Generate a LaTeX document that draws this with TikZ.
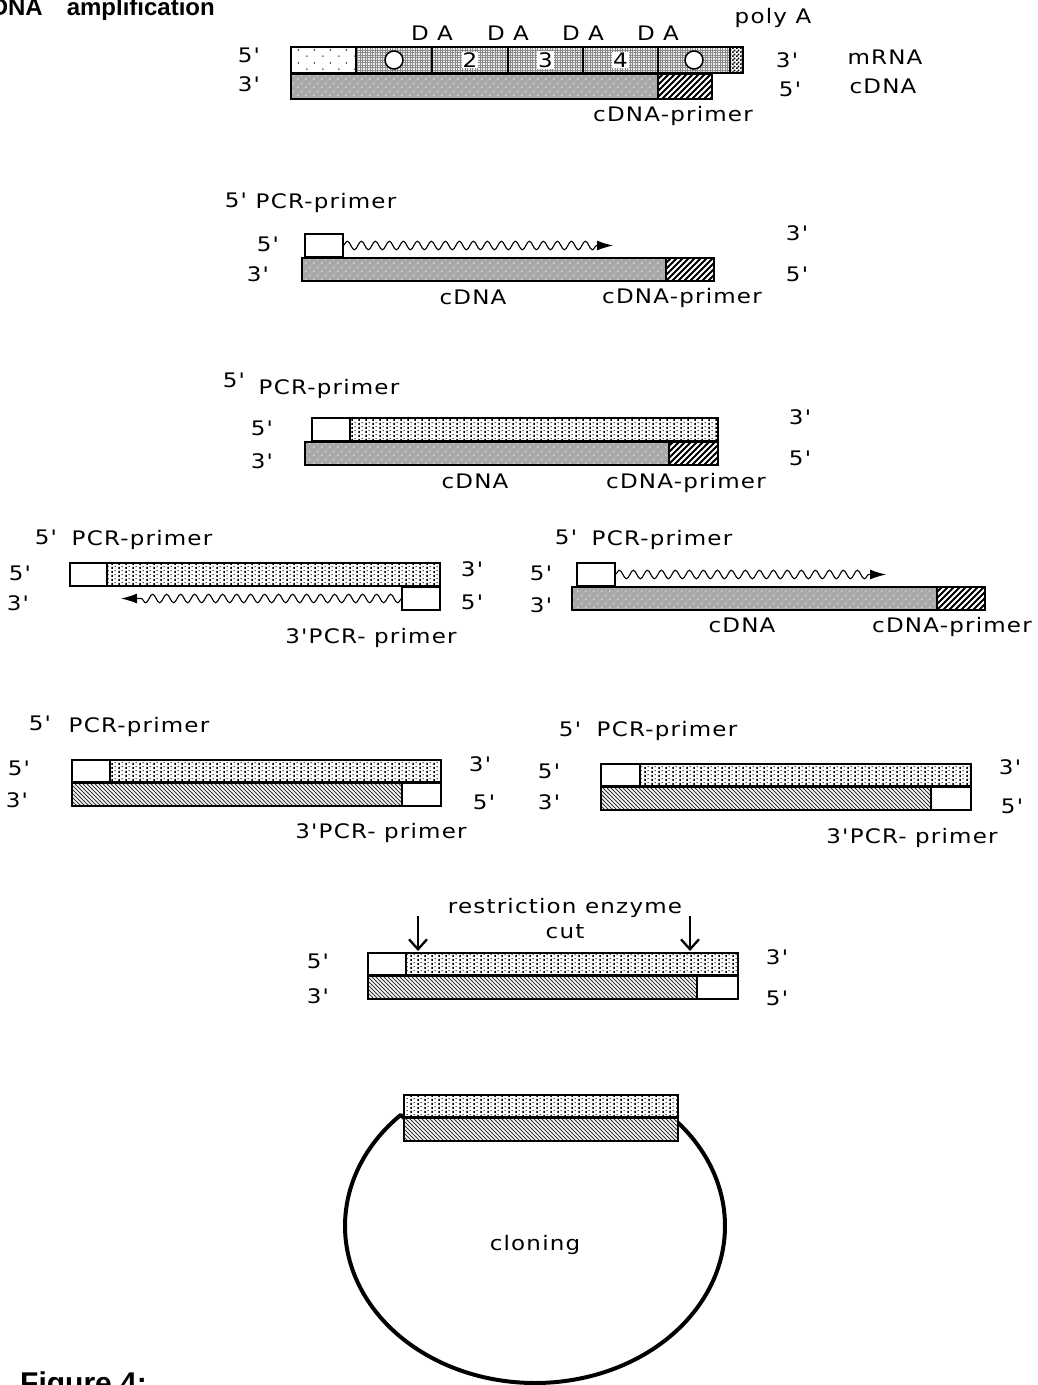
\documentclass[tikz,border=0pt]{standalone}
\usepackage{fontspec}
\setmainfont{DejaVu Sans}
\newfontfamily\macfont[FakeStretch=1.15,LetterSpace=6]{DejaVu Sans}
\newfontfamily\arialfont{Liberation Sans}
\usetikzlibrary{patterns,decorations.pathmorphing,arrows.meta}

% patterns
\pgfdeclarepatternformonly{sparsedots}{\pgfqpoint{0pt}{0pt}}{\pgfqpoint{16pt}{13pt}}{\pgfqpoint{16pt}{13pt}}{%
  \pgfpathcircle{\pgfqpoint{3pt}{3pt}}{1pt}\pgfpathcircle{\pgfqpoint{11pt}{9.5pt}}{1pt}\pgfusepath{fill}}
\pgfdeclarepatternformonly{finegrid}{\pgfqpoint{-0.5pt}{-0.5pt}}{\pgfqpoint{3pt}{3pt}}{\pgfqpoint{2.5pt}{2.5pt}}{%
  \pgfsetlinewidth{0.5pt}\pgfpathmoveto{\pgfqpoint{0pt}{0pt}}\pgfpathlineto{\pgfqpoint{0pt}{2.6pt}}%
  \pgfpathmoveto{\pgfqpoint{0pt}{0pt}}\pgfpathlineto{\pgfqpoint{2.6pt}{0pt}}\pgfusepath{stroke}}
\pgfdeclarepatternformonly{darkdots}{\pgfqpoint{0pt}{0pt}}{\pgfqpoint{8pt}{8pt}}{\pgfqpoint{8pt}{8pt}}{%
  \pgfpathcircle{\pgfqpoint{2pt}{2pt}}{1.1pt}\pgfpathcircle{\pgfqpoint{6pt}{6pt}}{1.1pt}\pgfusepath{fill}}
\pgfdeclarepatternformonly{pcrdots}{\pgfqpoint{0pt}{0pt}}{\pgfqpoint{6.5pt}{4pt}}{\pgfqpoint{6.5pt}{4pt}}{%
  \pgfpathrectangle{\pgfqpoint{0.4pt}{0.3pt}}{\pgfqpoint{1.6pt}{2.4pt}}%
  \pgfpathrectangle{\pgfqpoint{3.8pt}{2.2pt}}{\pgfqpoint{1.3pt}{1.3pt}}\pgfusepath{fill}}
\pgfdeclarepatternformonly{lighthatch}{\pgfqpoint{-1pt}{-1pt}}{\pgfqpoint{5pt}{5pt}}{\pgfqpoint{4pt}{4pt}}{%
  \pgfsetlinewidth{0.8pt}\pgfpathmoveto{\pgfqpoint{-0.1pt}{4.1pt}}\pgfpathlineto{\pgfqpoint{4.1pt}{-0.1pt}}\pgfusepath{stroke}}
\pgfdeclarepatternformonly{thickhatch}{\pgfqpoint{-1pt}{-1pt}}{\pgfqpoint{7pt}{7pt}}{\pgfqpoint{6pt}{6pt}}{%
  \pgfsetlinewidth{1.8pt}\pgfpathmoveto{\pgfqpoint{-0.2pt}{-0.2pt}}\pgfpathlineto{\pgfqpoint{6.2pt}{6.2pt}}\pgfusepath{stroke}}
\pgfdeclarepatternformonly{smallcheck}{\pgfqpoint{0pt}{0pt}}{\pgfqpoint{4pt}{4pt}}{\pgfqpoint{4pt}{4pt}}{%
  \pgfpathrectangle{\pgfqpoint{0pt}{0pt}}{\pgfqpoint{2pt}{2pt}}%
  \pgfpathrectangle{\pgfqpoint{2pt}{2pt}}{\pgfqpoint{2pt}{2pt}}\pgfusepath{fill}}

\newcommand\lblfont{\macfont\fontsize{20}{22}\selectfont}
\newcommand\segbox[6]{\node[seg,#1,minimum width={(#5-#3)*1pt},minimum height={(#6-#4)*1pt}] (#2) at (#3,#4) {};}

\tikzset{
  seg/.style={draw, line width=1.3pt, inner sep=0pt, outer sep=0pt, anchor=north west},
  blank/.style={fill=white},
  intron/.style={preaction={fill=white}, pattern=sparsedots, pattern color=black!70},
  exon/.style={preaction={fill=gray!12}, pattern=finegrid, pattern color=black!45},
  polya/.style={preaction={fill=white}, pattern=smallcheck, pattern color=black},
  cdna/.style={preaction={fill=gray!68}, pattern=darkdots, pattern color=gray!35},
  cprimer/.style={preaction={fill=white}, pattern=thickhatch, pattern color=black},
  pcr/.style={preaction={fill=white}, pattern=pcrdots, pattern color=black},
  newstr/.style={preaction={fill=white}, pattern=lighthatch, pattern color=black!80},
  lbl/.style={font=\lblfont, inner sep=0pt},
  wave/.style={decorate, decoration={snake, amplitude=4.3pt, segment length=14pt}, line width=1.1pt},
  tip/.style={line width=1.1pt, -{Latex[length=16pt,width=10pt]}},
  cutarrow/.style={line width=2.3pt, -{Straight Barb[length=10pt,width=18pt]}},
  loopline/.style={line width=4pt, line join=round}
}

\begin{document}
\begin{tikzpicture}[x=1pt,y=-1pt]
\useasboundingbox (0,0) rectangle (1038,1385);

% title and caption
\node[font=\arialfont\bfseries\fontsize{24}{27}\selectfont, inner sep=0pt, anchor=base east] (title) at (215,15) {cDNA\hspace{24pt}amplification};
\node[font=\arialfont\bfseries\fontsize{30}{34}\selectfont, inner sep=0pt, anchor=base west] (fig) at (20,1393) {Figure 4:};

% ---------------- Row 1: mRNA / cDNA
\segbox{intron}{m1a}{291}{47}{356}{73}
\segbox{exon}{m1b}{356}{47}{432}{73}
\segbox{exon}{m1c}{432}{47}{508}{73}
\segbox{exon}{m1d}{508}{47}{583}{73}
\segbox{exon}{m1e}{583}{47}{658}{73}
\segbox{exon}{m1f}{658}{47}{730}{73}
\segbox{polya}{m1g}{730}{47}{743}{73}
\segbox{cdna}{c1a}{291}{74}{658}{99}
\segbox{cprimer}{c1b}{658}{74}{712}{99}
\node[circle, draw, fill=white, line width=1.5pt, minimum size=18pt, inner sep=0pt] (o1) at (m1b.center) {};
\node[circle, draw, fill=white, line width=1.5pt, minimum size=18pt, inner sep=0pt] (o2) at (m1f.center) {};
\node[lbl, fill=white, inner sep=1pt] (n2) at (m1c.center) {2};
\node[lbl, fill=white, inner sep=1pt] (n3) at (m1d.center) {3};
\node[lbl, fill=white, inner sep=1pt] (n4) at (m1e.center) {4};
\node[lbl] (da1) at (432,33) {D A};
\node[lbl] (da2) at (508,33) {D A};
\node[lbl] (da3) at (583,33) {D A};
\node[lbl] (da4) at (658,33) {D A};
\node[lbl] (polyA) at (773,18) {poly A};
\node[lbl] (r1l5) at (249,55) {5'};
\node[lbl] (r1l3) at (249,84) {3'};
\node[lbl] (r1r3) at (787,60) {3'};
\node[lbl] (r1r5) at (790,89) {5'};
\node[lbl] (mrna) at (885,57) {mRNA};
\node[lbl] (cdnaA) at (883,86) {cDNA};
\node[lbl] (cp1) at (673,116) {cDNA-primer};

% ---------------- Row 2
\node[lbl] (r2p5) at (236,200) {5'};
\node[lbl] (r2pcr) at (326,203) {PCR-primer};
\segbox{blank}{p2}{305}{234}{343}{257}
\segbox{cdna}{c2a}{302}{258}{666}{281}
\segbox{cprimer}{c2b}{666}{258}{714}{281}
\coordinate (w2e) at (597,245.5);
\coordinate (w2t) at (613,245.5);
\draw[wave] (p2.east) -- (w2e);
\draw[tip] (w2e) -- (w2t);
\node[lbl] (r2l5) at (268,244) {5'};
\node[lbl] (r2l3) at (258,274) {3'};
\node[lbl] (r2r3) at (797,233) {3'};
\node[lbl] (r2r5) at (797,274) {5'};
\node[lbl] (r2c) at (473,297) {cDNA};
\node[lbl] (r2cp) at (682,298) {cDNA-primer};

% ---------------- Row 3
\node[lbl] (r3p5) at (234,380) {5'};
\node[lbl] (r3pcr) at (329,389) {PCR-primer};
\segbox{blank}{p3}{312}{418}{350}{441}
\segbox{pcr}{t3}{350}{418}{718}{441}
\segbox{cdna}{c3a}{305}{442}{669}{465}
\segbox{cprimer}{c3b}{669}{442}{718}{465}
\node[lbl] (r3l5) at (262,428) {5'};
\node[lbl] (r3l3) at (262,461) {3'};
\node[lbl] (r3r3) at (800,417) {3'};
\node[lbl] (r3r5) at (800,458) {5'};
\node[lbl] (r3c) at (475,481) {cDNA};
\node[lbl] (r3cp) at (686,483) {cDNA-primer};

% ---------------- Row 4 left
\node[lbl] (r4p5) at (46,537) {5'};
\node[lbl] (r4pcr) at (142,540) {PCR-primer};
\segbox{blank}{p4}{70}{563}{107}{586}
\segbox{pcr}{t4}{107}{563}{440}{586}
\segbox{blank}{q4}{402}{587}{440}{610}
\coordinate (w4e) at (138,598.5);
\coordinate (w4t) at (121,598.5);
\draw[wave] (q4.west) -- (w4e);
\draw[tip] (w4e) -- (w4t);
\node[lbl] (r4l5) at (20,573) {5'};
\node[lbl] (r4l3) at (18,603) {3'};
\node[lbl] (r4r3) at (472,569) {3'};
\node[lbl] (r4r5) at (472,602) {5'};
\node[lbl] (r4q) at (371,638) {3'PCR- primer};

% ---------------- Row 4 right
\node[lbl] (s4p5) at (566,537) {5'};
\node[lbl] (s4pcr) at (662,540) {PCR-primer};
\segbox{blank}{u4}{577}{563}{615}{586}
\segbox{cdna}{c4a}{572}{587}{937}{610}
\segbox{cprimer}{c4b}{937}{587}{985}{610}
\coordinate (x4e) at (869,574.5);
\coordinate (x4t) at (886,574.5);
\draw[wave] (u4.east) -- (x4e);
\draw[tip] (x4e) -- (x4t);
\node[lbl] (s4l5) at (541,573) {5'};
\node[lbl] (s4l3) at (541,605) {3'};
\node[lbl] (s4c) at (742,625) {cDNA};
\node[lbl] (s4cp) at (952,627) {cDNA-primer};

% ---------------- Row 5 left
\node[lbl] (r5p5) at (40,723) {5'};
\node[lbl] (r5pcr) at (139,727) {PCR-primer};
\segbox{blank}{p5}{72}{760}{110}{782}
\segbox{pcr}{t5}{110}{760}{441}{782}
\segbox{newstr}{b5}{72}{783}{402}{806}
\segbox{blank}{q5}{402}{783}{441}{806}
\node[lbl] (r5l5) at (19,768) {5'};
\node[lbl] (r5l3) at (17,800) {3'};
\node[lbl] (r5r3) at (480,764) {3'};
\node[lbl] (r5r5) at (484,802) {5'};
\node[lbl] (r5q) at (381,833) {3'PCR- primer};

% ---------------- Row 5 right
\node[lbl] (s5p5) at (570,729) {5'};
\node[lbl] (s5pcr) at (667,731) {PCR-primer};
\segbox{blank}{u5}{601}{764}{640}{786}
\segbox{pcr}{v5}{640}{764}{971}{786}
\segbox{newstr}{d5}{601}{787}{931}{810}
\segbox{blank}{e5}{931}{787}{971}{810}
\node[lbl] (s5l5) at (549,771) {5'};
\node[lbl] (s5l3) at (549,802) {3'};
\node[lbl] (s5r3) at (1010,767) {3'};
\node[lbl] (s5r5) at (1012,806) {5'};
\node[lbl] (s5q) at (912,838) {3'PCR- primer};

% ---------------- Row 6: restriction
\node[lbl] (re) at (565,908) {restriction enzyme};
\node[lbl] (cut) at (565,932) {cut};
\segbox{blank}{p6}{368}{953}{406}{975}
\segbox{pcr}{t6}{406}{953}{738}{975}
\segbox{newstr}{b6}{368}{976}{697}{999}
\segbox{blank}{q6}{697}{976}{738}{999}
\coordinate (ca1) at (418,916);
\coordinate (ca1e) at (418,951);
\coordinate (ca2) at (690,916);
\coordinate (ca2e) at (690,951);
\draw[cutarrow] (ca1) -- (ca1e);
\draw[cutarrow] (ca2) -- (ca2e);
\node[lbl] (r6l5) at (318,961) {5'};
\node[lbl] (r6l3) at (318,996) {3'};
\node[lbl] (r6r3) at (777,957) {3'};
\node[lbl] (r6r5) at (777,998) {5'};

% ---------------- Row 7: cloning
\draw[loopline] (404,1118) -- plot[domain=135:403, samples=120, smooth] ({535+190*cos(\x)},{1226-157*sin(\x)}) -- (678,1118);
\segbox{pcr}{t7}{404}{1095}{678}{1117}
\segbox{newstr}{b7}{404}{1118}{678}{1141}
\node[lbl] (clon) at (535,1245) {cloning};
\end{tikzpicture}
\end{document}
